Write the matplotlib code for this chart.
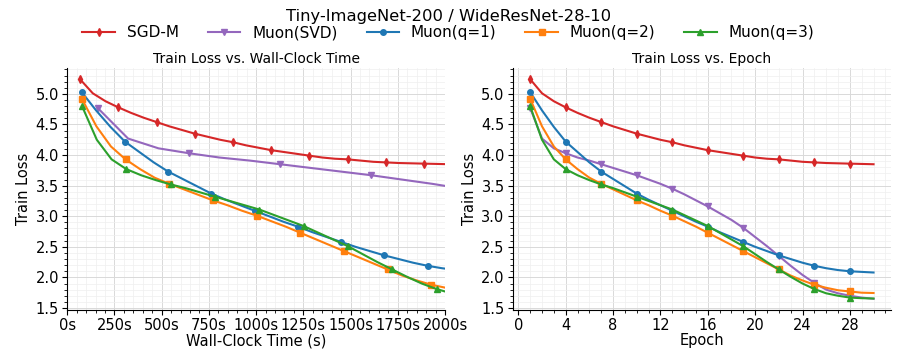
import numpy as np
import matplotlib
matplotlib.use('Agg')
import matplotlib.pyplot as plt
from matplotlib.ticker import AutoMinorLocator, FuncFormatter, MultipleLocator

epochs = np.arange(1, 31)

# seconds per epoch for each optimizer
sec_per_epoch = {'SGD-M': 67.5, 'Muon(SVD)': 161.0, 'Muon(q=1)': 76.3,
                 'Muon(q=2)': 77.1, 'Muon(q=3)': 78.2}

sgd_m = [5.24, 5.01, 4.88, 4.78, 4.69, 4.61, 4.54, 4.47, 4.41, 4.35,
         4.30, 4.25, 4.21, 4.16, 4.12, 4.08, 4.05, 4.02, 3.99, 3.96,
         3.94, 3.93, 3.91, 3.89, 3.88, 3.87, 3.865, 3.86, 3.855, 3.85]
muon_svd = [4.77, 4.27, 4.11, 4.03, 3.96, 3.91, 3.85, 3.79, 3.73, 3.67,
            3.60, 3.53, 3.45, 3.36, 3.26, 3.16, 3.05, 2.94, 2.81, 2.66,
            2.51, 2.35, 2.19, 2.04, 1.91, 1.80, 1.74, 1.70, 1.67, 1.65]
muon_q1 = [5.03, 4.73, 4.46, 4.22, 4.05, 3.88, 3.73, 3.61, 3.49, 3.37,
           3.27, 3.18, 3.09, 3.00, 2.91, 2.83, 2.74, 2.66, 2.58, 2.50,
           2.43, 2.36, 2.30, 2.24, 2.19, 2.15, 2.12, 2.10, 2.09, 2.08]
muon_q2 = [4.92, 4.47, 4.14, 3.93, 3.77, 3.63, 3.53, 3.44, 3.35, 3.26,
           3.18, 3.09, 3.01, 2.92, 2.83, 2.73, 2.63, 2.53, 2.43, 2.33,
           2.23, 2.13, 2.03, 1.95, 1.88, 1.83, 1.79, 1.77, 1.75, 1.745]
muon_q3 = [4.80, 4.25, 3.93, 3.77, 3.67, 3.59, 3.52, 3.46, 3.39, 3.32,
           3.25, 3.18, 3.11, 3.02, 2.93, 2.84, 2.73, 2.62, 2.51, 2.38,
           2.25, 2.13, 2.01, 1.90, 1.81, 1.74, 1.70, 1.67, 1.66, 1.655]

runs = [
    ('SGD-M', sgd_m, '#d62728', 'd'),
    ('Muon(SVD)', muon_svd, '#9467bd', 'v'),
    ('Muon(q=1)', muon_q1, '#1f77b4', 'o'),
    ('Muon(q=2)', muon_q2, '#ff7f0e', 's'),
    ('Muon(q=3)', muon_q3, '#2ca02c', '^'),
]

fig, (ax1, ax2) = plt.subplots(1, 2, figsize=(8.97, 3.59), dpi=100)
fig.subplots_adjust(left=0.075, right=0.993, bottom=0.137, top=0.81, wspace=0.18)

for name, loss, color, marker in runs:
    t = epochs * sec_per_epoch[name]
    ax1.plot(t, loss, color=color, marker=marker, markevery=3, markersize=4,
             linewidth=1.5, label=name)
    ax2.plot(epochs, loss, color=color, marker=marker, markevery=3, markersize=4,
             linewidth=1.5, label=name)

ax1.set_xlim(0, 2000)
ax1.xaxis.set_major_locator(MultipleLocator(250))
ax1.xaxis.set_major_formatter(FuncFormatter(lambda v, p: f'{int(v)}s'))
ax1.set_xlabel('Wall-Clock Time (s)', fontsize=10.5, labelpad=0)
ax1.set_title('Train Loss vs. Wall-Clock Time', fontsize=10, pad=4)

ax2.xaxis.set_major_locator(MultipleLocator(4))
ax2.set_xlabel('Epoch', fontsize=10.5, labelpad=0)
ax2.set_title('Train Loss vs. Epoch', fontsize=10, pad=4)

for ax in (ax1, ax2):
    ax.set_ylim(1.47, 5.42)
    ax.yaxis.set_major_locator(MultipleLocator(0.5))
    ax.set_ylabel('Train Loss', fontsize=10.5, labelpad=3)
    ax.xaxis.set_minor_locator(AutoMinorLocator())
    ax.yaxis.set_minor_locator(AutoMinorLocator())
    ax.grid(which='major', color='#d9d9d9', linewidth=0.7)
    ax.grid(which='minor', color='#efefef', linewidth=0.5)
    ax.spines['top'].set_visible(False)
    ax.spines['right'].set_visible(False)
    ax.tick_params(labelsize=10.5, pad=2.5)

fig.suptitle('Tiny-ImageNet-200 / WideResNet-28-10', fontsize=11.8, y=0.975)
handles, labels = ax1.get_legend_handles_labels()
fig.legend(handles, labels, loc='upper center', ncol=5, frameon=False,
           fontsize=11, bbox_to_anchor=(0.5, 0.955), columnspacing=1.9,
           handlelength=2.1, borderaxespad=0.2)

fig.savefig('out.png', dpi=100)
